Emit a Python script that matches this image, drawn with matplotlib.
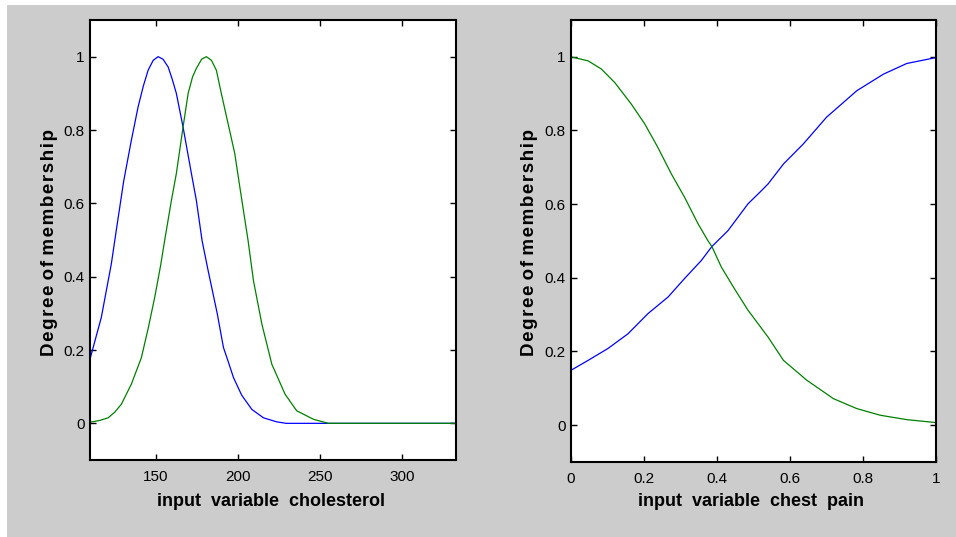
import matplotlib
matplotlib.use("Agg")
import matplotlib.pyplot as plt
from matplotlib.patches import Rectangle

# cholesterol membership functions
chol_x_low = [110, 116.9, 123, 126, 130.5, 135.2, 139.3, 142.5, 145.4, 148.5, 151.5, 154.5, 157.6, 160,
              162.6, 166.7, 171.8, 174.8, 178.3, 182, 187.5, 191.3, 194.1, 197.4, 202.4, 208.6, 215.7,
              223.8, 229.5, 333]
chol_y_low = [0.175, 0.289, 0.435, 0.526, 0.66, 0.772, 0.863, 0.92, 0.963, 0.99, 1.0, 0.993, 0.972, 0.94,
              0.90, 0.808, 0.681, 0.608, 0.498, 0.416, 0.30, 0.207, 0.17, 0.125, 0.077, 0.038, 0.015,
              0.004, 0.0, 0.0]

chol_x_high = [110, 116, 121, 125, 129.1, 135.2, 141.3, 145.5, 149.4, 153, 155.5, 159.6, 162.6, 166.7,
               169.8, 172.5, 174.8, 178, 180.9, 184, 187, 190, 194.1, 198.2, 201.3, 206.3, 209.6, 214.7,
               220.8, 228.9, 236, 246.2, 255.3, 333]
chol_y_high = [0.003, 0.008, 0.015, 0.03, 0.052, 0.107, 0.179, 0.26, 0.343, 0.43, 0.499, 0.608, 0.681,
               0.808, 0.90, 0.945, 0.968, 0.993, 1.0, 0.99, 0.963, 0.90, 0.818, 0.736, 0.644, 0.499,
               0.389, 0.271, 0.161, 0.079, 0.034, 0.011, 0.0, 0.0]

# chest pain membership functions
pain_x_up = [0, 0.047, 0.101, 0.156, 0.211, 0.266, 0.311, 0.357, 0.386, 0.43, 0.485, 0.518, 0.54,
             0.582, 0.636, 0.70, 0.783, 0.856, 0.92, 1.0]
pain_y_up = [0.149, 0.176, 0.208, 0.248, 0.303, 0.348, 0.398, 0.447, 0.485, 0.528, 0.601, 0.633, 0.655,
             0.709, 0.763, 0.836, 0.908, 0.953, 0.982, 0.998]

pain_x_down = [0, 0.047, 0.083, 0.12, 0.165, 0.202, 0.238, 0.275, 0.311, 0.348, 0.375, 0.386, 0.412,
               0.448, 0.485, 0.54, 0.582, 0.646, 0.719, 0.783, 0.847, 0.92, 1.0]
pain_y_down = [1.0, 0.989, 0.967, 0.93, 0.872, 0.818, 0.754, 0.682, 0.619, 0.547, 0.501, 0.485, 0.429,
               0.37, 0.312, 0.239, 0.176, 0.122, 0.072, 0.045, 0.027, 0.015, 0.007]

chol_ticks = [150, 200, 250, 300]
pain_ticks = [0, 0.2, 0.4, 0.6, 0.8, 1]
y_ticks = [0, 0.2, 0.4, 0.6, 0.8, 1]

plt.rcParams["font.family"] = ["Liberation Sans", "DejaVu Sans"]

W, H = 956, 537
fig = plt.figure(figsize=(W / 100, H / 100), dpi=100, facecolor="white")
fig.patches.append(Rectangle((7 / W, 0), 1, 1 - 5 / H, transform=fig.transFigure,
                             facecolor="#cccccc", edgecolor="none", zorder=-10))


def px_axes(left, top, right, bottom):
    return fig.add_axes([left / W, 1 - bottom / H, (right - left) / W, (bottom - top) / H])


ax1 = px_axes(90, 20, 456, 460)
ax2 = px_axes(571, 20, 936, 462)

ax1.plot(chol_x_low, chol_y_low, color="#0000ff", lw=0.9)
ax1.plot(chol_x_high, chol_y_high, color="#008000", lw=0.9)
ax1.set_xlim(110, 333)
ax1.set_xticks(chol_ticks)

ax2.plot(pain_x_up, pain_y_up, color="#0000ff", lw=0.9)
ax2.plot(pain_x_down, pain_y_down, color="#008000", lw=0.9)
ax2.set_xlim(0, 1)
ax2.set_xticks(pain_ticks)
ax2.set_xticklabels(["0", "0.2", "0.4", "0.6", "0.8", "1"])

for ax in (ax1, ax2):
    ax.set_ylim(-0.1, 1.1)
    ax.set_yticks(y_ticks)
    ax.set_yticklabels(["0", "0.2", "0.4", "0.6", "0.8", "1"])
    ax.tick_params(direction="in", top=True, right=True, length=4, width=1,
                   labelsize=11, pad=4)
    ax.tick_params(axis="x", pad=7)
    for s in ax.spines.values():
        s.set_linewidth(1.5)

# letter-spaced y label, like the original
ylab = " ".join("\u200a".join(w) for w in ["Degree", "of", "membership"])
fig.text(50 / W, 1 - 242 / H, ylab, rotation=90, ha="center", va="center",
         fontsize=13.5, fontweight="bold")
fig.text(530 / W, 1 - 243 / H, ylab, rotation=90, ha="center", va="center",
         fontsize=13.5, fontweight="bold")
fig.text(271 / W, 1 - 501 / H, "input  variable  cholesterol", ha="center", va="center",
         fontsize=13, fontweight="bold")
fig.text(751 / W, 1 - 501 / H, "input  variable  chest  pain", ha="center", va="center",
         fontsize=13, fontweight="bold")

fig.savefig("out.png", dpi=100, facecolor="white")
